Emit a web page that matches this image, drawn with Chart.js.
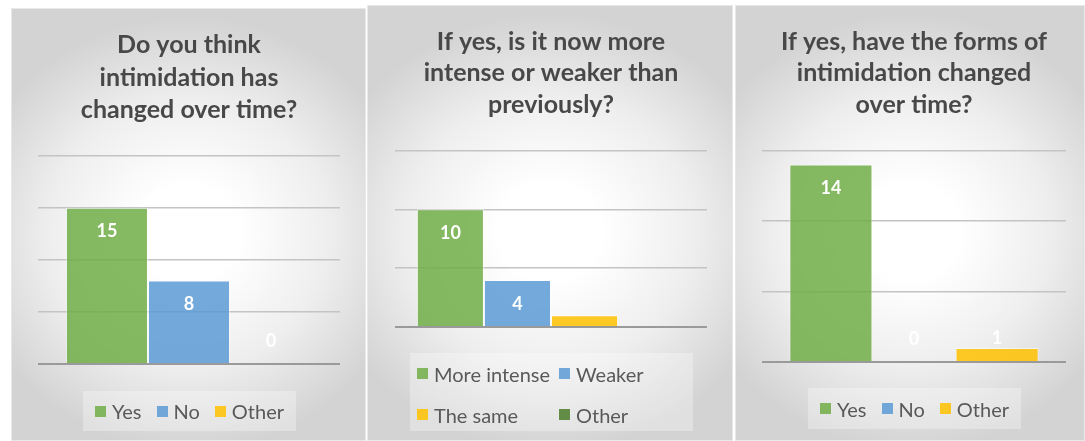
<!DOCTYPE html>
<html>
<head>
<meta charset="utf-8">
<script src="https://cdn.jsdelivr.net/npm/chart.js@4.4.1/dist/chart.umd.min.js"></script>
<style>
body { margin: 0; background: #fff; width: 1085px; height: 441px; overflow: hidden; position: relative; font-family: Lato, sans-serif; }
.panel { position: absolute; box-sizing: border-box;
  background: radial-gradient(ellipse 64% 50% at 50% 52%, #ffffff 0%, #ffffff 22%, #eeeeee 62%, #d3d3d3 100%);
  box-shadow: inset 0 0 0 1px #e8e8e8; }
.panel canvas { position: absolute; left: 0; top: 0; }
.legend { position: absolute; background: rgba(255,255,255,0.3); color: #595959; font-size: 20px; }
.legend .item { display: flex; align-items: center; white-space: nowrap; }
.legend .box { width: 11px; height: 11px; margin-right: 6px; }
.row { display: flex; justify-content: center; align-items: center; gap: 15px; height: 100%; }
.grid2 { display: grid; grid-template-columns: 142px auto; grid-auto-rows: 41px; padding-left: 7px; align-items: center; }
</style>
</head>
<body>
<div class="panel" id="p1" style="left:11px;top:8px;width:355px;height:433px;">
  <canvas id="c1" width="355" height="433"></canvas>
  <div class="legend row" id="l1" style="left:72px;top:383px;width:213px;height:40px;"></div>
</div>
<div class="panel" id="p2" style="left:367px;top:5px;width:366px;height:436px;">
  <canvas id="c2" width="366" height="436"></canvas>
  <div class="legend grid2" id="l2" style="left:43px;top:348px;width:276px;height:78px;"></div>
</div>
<div class="panel" id="p3" style="left:735px;top:5px;width:350px;height:436px;">
  <canvas id="c3" width="350" height="436"></canvas>
  <div class="legend row" id="l3" style="left:73px;top:383px;width:213px;height:41px;"></div>
</div>
<script>
// chart 1
var title1 = ['Do you think', 'intimidation has', 'changed over time?'];
var labels1 = ['Yes', 'No', 'Other'];
var values1 = [15, 8, 0];
var shown1 = [true, true, true];
var max1 = 20;

// chart 2
var title2 = ['If yes, is it now more', 'intense or weaker than', 'previously?'];
var labels2 = ['More intense', 'Weaker', 'The same', 'Other'];
var values2 = [10, 4, 1, 0];
var shown2 = [true, true, false, false];
var max2 = 15;

// chart 3
var title3 = ['If yes, have the forms of', 'intimidation changed', 'over time?'];
var labels3 = ['Yes', 'No', 'Other'];
var values3 = [14, 0, 1];
var shown3 = [true, true, true];
var max3 = 15;

var tickStep = 5;
var green = 'rgba(112,173,71,0.85)', blue = 'rgba(91,155,213,0.85)', gold = 'rgba(255,192,0,0.85)', dkgreen = 'rgba(84,130,53,0.9)';

// white numbers inside the bar top, or just above the axis for short bars
var valueLabels = {
  id: 'valueLabels',
  afterDatasetsDraw: function(chart) {
    var ctx = chart.ctx;
    ctx.save();
    ctx.font = 'bold 18px Lato';
    ctx.fillStyle = '#ffffff';
    ctx.textAlign = 'center';
    ctx.textBaseline = 'middle';
    chart.data.datasets.forEach(function(ds, i) {
      if (!ds.showValue) return;
      chart.getDatasetMeta(i).data.forEach(function(bar, j) {
        var h = bar.base - bar.y;
        var y = h > 40 ? bar.y + 24 : bar.base - 23;
        ctx.fillText(ds.data[j], bar.x, y);
      });
    });
    ctx.restore();
  }
};

function makeChart(id, title, labels, values, shown, colors, max, pad, catPct) {
  var datasets = labels.map(function(l, i) {
    return { label: l, data: [values[i]], backgroundColor: colors[i], showValue: shown[i],
      borderColor: 'rgba(255,255,255,0.55)', borderWidth: 1,
      barPercentage: 1, categoryPercentage: catPct };
  });
  return new Chart(document.getElementById(id), {
    type: 'bar',
    data: { labels: [''], datasets: datasets },
    plugins: [valueLabels],
    options: {
      responsive: false,
      animation: false,
      layout: { padding: { left: pad.left, right: pad.right, top: 0, bottom: pad.bottom } },
      plugins: {
        legend: { display: false },
        tooltip: { enabled: false },
        title: { display: true, text: title, color: '#484848',
          font: { family: 'Lato', size: 25, weight: 'bold', lineHeight: pad.lh },
          padding: { top: pad.tTop, bottom: pad.tBottom } }
      },
      scales: {
        x: { display: false },
        y: { min: 0, max: max,
          ticks: { display: false, stepSize: tickStep },
          border: { display: false },
          grid: { drawTicks: false,
            color: function(c) { return c.tick.value === 0 ? '#9a9a9a' : '#c4c4c4'; },
            lineWidth: function(c) { return c.tick.value === 0 ? 2 : 1.5; } } }
      }
    }
  });
}

function buildLegend(chart, elId) {
  var el = document.getElementById(elId);
  chart.data.datasets.forEach(function(ds) {
    var item = document.createElement('div');
    item.className = 'item';
    var box = document.createElement('span');
    box.className = 'box';
    box.style.background = ds.backgroundColor;
    item.appendChild(box);
    item.appendChild(document.createTextNode(ds.label));
    el.appendChild(item);
  });
}

var ch1 = makeChart('c1', title1, labels1, values1, shown1, [green, blue, gold], max1,
  { left: 27, right: 26, bottom: 77, tTop: 21, tBottom: 29, lh: 1.3 }, 0.815);
var ch2 = makeChart('c2', title2, labels2, values2, shown2, [green, blue, gold, dkgreen], max2,
  { left: 28, right: 26, bottom: 114, tTop: 21, tBottom: 30, lh: 1.26 }, 0.86);
var ch3 = makeChart('c3', title3, labels3, values3, shown3, [green, blue, gold], max3,
  { left: 27, right: 19, bottom: 79, tTop: 21, tBottom: 30, lh: 1.26 }, 0.82);

buildLegend(ch1, 'l1');
buildLegend(ch2, 'l2');
buildLegend(ch3, 'l3');
</script>
</body>
</html>
